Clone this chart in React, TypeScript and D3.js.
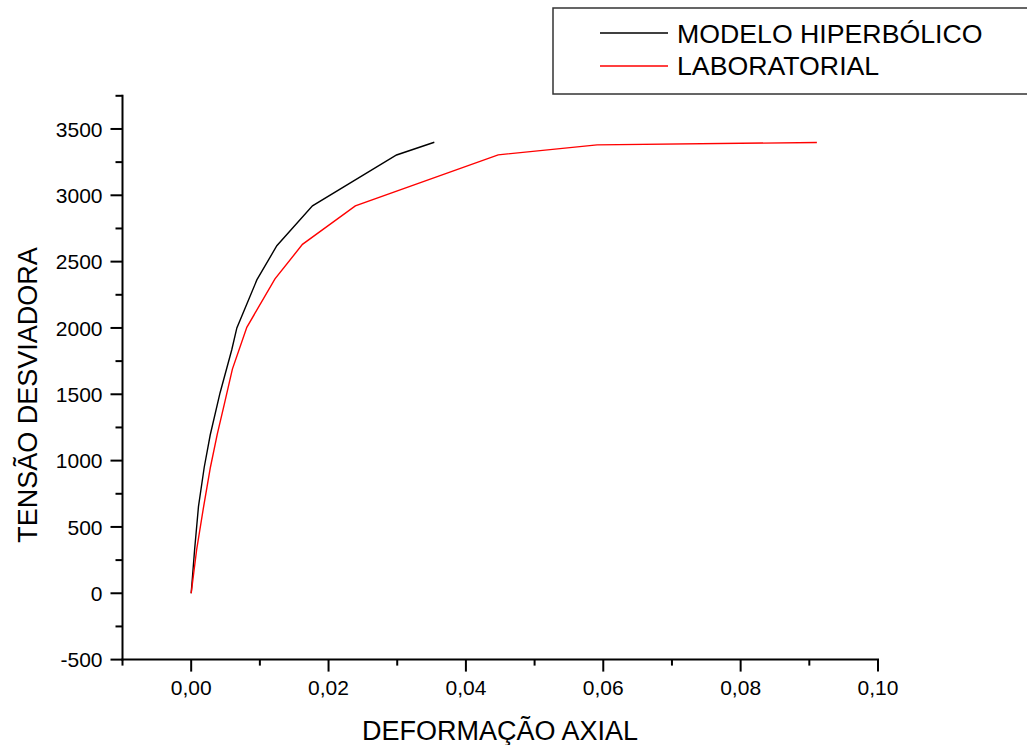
import React from "react";
import * as d3 from "d3";

const modeloStrain = [0, 0.0005, 0.00106, 0.0019, 0.00277, 0.0042, 0.0059, 0.00665, 0.00956, 0.01247, 0.01766, 0.0299, 0.0354];
const modeloStress = [0, 330, 653, 950, 1193, 1510, 1834, 2000, 2362, 2620, 2920, 3304, 3400];

const labStrain = [0, 0.0008, 0.0018, 0.0028, 0.0038, 0.0048, 0.006, 0.0081, 0.0122, 0.0162, 0.0239, 0.0447, 0.0591, 0.0911];
const labStress = [0, 330, 650, 950, 1200, 1420, 1690, 2005, 2370, 2630, 2920, 3305, 3380, 3398];

const xMajorTicks = [0, 0.02, 0.04, 0.06, 0.08, 0.1];
const xTickLabels = ["0,00", "0,02", "0,04", "0,06", "0,08", "0,10"];
const xMinorTicks = [-0.01, 0.01, 0.03, 0.05, 0.07, 0.09];
const yMajorTicks = [-500, 0, 500, 1000, 1500, 2000, 2500, 3000, 3500];
const yMinorTicks = [-250, 250, 750, 1250, 1750, 2250, 2750, 3250, 3750];

const seriesNames = ["MODELO HIPERBÓLICO", "LABORATORIAL"];
const seriesColors = ["#000000", "#ff0000"];

const W = 1027;
const H = 745;
const FONT = "'Liberation Sans', Arial, sans-serif";

export default function App() {
  const x = d3.scaleLinear().domain([-0.01, 0.1]).range([122.5, 878]);
  const y = d3.scaleLinear().domain([-500, 3750]).range([659.6, 95.8]);
  const line = d3
    .line<[number, number]>()
    .x((d) => x(d[0]))
    .y((d) => y(d[1]));

  const modelo: [number, number][] = modeloStrain.map((s, i) => [s, modeloStress[i]]);
  const lab: [number, number][] = labStrain.map((s, i) => [s, labStress[i]]);
  const series = [modelo, lab];

  const x0 = x.range()[0];
  const yb = y.range()[0];
  const yt = y.range()[1];

  return (
    <svg
      width={W}
      height={H}
      style={{ position: "absolute", left: 0, top: 0, background: "#fff" }}
      fontFamily={FONT}
    >
      {/* data */}
      {series.map((d, i) => (
        <path key={i} d={line(d) || ""} fill="none" stroke={seriesColors[i]} strokeWidth={1.4} />
      ))}

      {/* y axis */}
      <line x1={x0} x2={x0} y1={yt - 1} y2={yb + 1} stroke="#000" strokeWidth={2} />
      {yMajorTicks.map((t) => (
        <g key={"ym" + t}>
          <line x1={x0 - 12} x2={x0} y1={y(t)} y2={y(t)} stroke="#000" strokeWidth={2} />
          <text x={x0 - 20} y={y(t)} dy="0.36em" textAnchor="end" fontSize={21} fill="#000">
            {t}
          </text>
        </g>
      ))}
      {yMinorTicks.map((t) => (
        <line key={"yn" + t} x1={x0 - 7} x2={x0} y1={y(t)} y2={y(t)} stroke="#000" strokeWidth={2} />
      ))}

      {/* x axis */}
      <line x1={x0 - 1} x2={x(0.1) + 1} y1={yb} y2={yb} stroke="#000" strokeWidth={2} />
      {xMajorTicks.map((t, i) => (
        <g key={"xm" + t}>
          <line x1={x(t)} x2={x(t)} y1={yb} y2={yb + 12} stroke="#000" strokeWidth={2} />
          <text x={x(t)} y={695} textAnchor="middle" fontSize={21} fill="#000">
            {xTickLabels[i]}
          </text>
        </g>
      ))}
      {xMinorTicks.map((t) => (
        <line key={"xn" + t} x1={x(t)} x2={x(t)} y1={yb} y2={yb + 6} stroke="#000" strokeWidth={2} />
      ))}

      {/* axis titles */}
      <text x={500} y={740} textAnchor="middle" fontSize={27} fill="#000">
        DEFORMAÇÃO AXIAL
      </text>
      <text
        transform="translate(37,395) rotate(-90)"
        textAnchor="middle"
        fontSize={27}
        fill="#000"
      >
        TENSÃO DESVIADORA
      </text>

      {/* legend */}
      <rect x={553} y={8} width={500} height={86} fill="#fff" stroke="#333" strokeWidth={1.5} />
      {seriesNames.map((n, i) => (
        <g key={n}>
          <line x1={600} x2={668} y1={33 + i * 33} y2={33 + i * 33} stroke={seriesColors[i]} strokeWidth={1.4} />
          <text x={677} y={43 + i * 32} fontSize={26.7} fill="#000">
            {n}
          </text>
        </g>
      ))}
    </svg>
  );
}
